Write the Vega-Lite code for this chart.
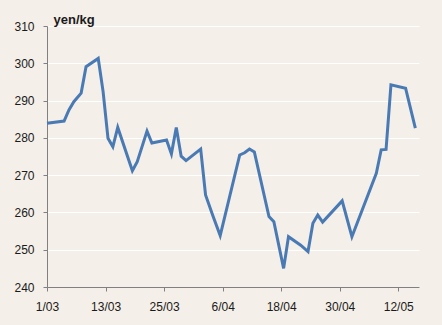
{
  "$schema": "https://vega.github.io/schema/vega-lite/v6.json",
  "width": 372,
  "height": 261,
  "autosize": "none",
  "padding": {"left": 47, "top": 26, "right": 23, "bottom": 38},
  "background": "#f4efe8",
  "config": {
    "view": {"stroke": null},
    "font": "Liberation Sans",
    "axis": {"labelFont": "Liberation Sans", "labelFontSize": 12, "labelColor": "#1a1a1a", "domainColor": "#808080", "tickColor": "#808080", "tickSize": 4}
  },
  "data": {
    "values": [
      {"date": "2008-03-01T00:00:00Z", "price": 283.9},
      {"date": "2008-03-04T12:00:00Z", "price": 284.5},
      {"date": "2008-03-05T12:00:00Z", "price": 287.5},
      {"date": "2008-03-06T12:00:00Z", "price": 289.7},
      {"date": "2008-03-08T00:00:00Z", "price": 292.0},
      {"date": "2008-03-09T00:00:00Z", "price": 299.1},
      {"date": "2008-03-11T12:00:00Z", "price": 301.3},
      {"date": "2008-03-12T12:00:00Z", "price": 292.4},
      {"date": "2008-03-13T12:00:00Z", "price": 279.9},
      {"date": "2008-03-14T12:00:00Z", "price": 277.6},
      {"date": "2008-03-15T12:00:00Z", "price": 282.8},
      {"date": "2008-03-18T12:00:00Z", "price": 271.2},
      {"date": "2008-03-19T12:00:00Z", "price": 273.6},
      {"date": "2008-03-21T12:00:00Z", "price": 281.8},
      {"date": "2008-03-22T12:00:00Z", "price": 278.6},
      {"date": "2008-03-25T12:00:00Z", "price": 279.4},
      {"date": "2008-03-26T12:00:00Z", "price": 275.7},
      {"date": "2008-03-27T12:00:00Z", "price": 282.8},
      {"date": "2008-03-28T12:00:00Z", "price": 275.1},
      {"date": "2008-03-29T12:00:00Z", "price": 273.9},
      {"date": "2008-04-01T12:00:00Z", "price": 277.0},
      {"date": "2008-04-02T12:00:00Z", "price": 264.7},
      {"date": "2008-04-04T00:00:00Z", "price": 259.1},
      {"date": "2008-04-05T12:00:00Z", "price": 253.8},
      {"date": "2008-04-09T12:00:00Z", "price": 275.4},
      {"date": "2008-04-10T12:00:00Z", "price": 276.0},
      {"date": "2008-04-11T12:00:00Z", "price": 277.0},
      {"date": "2008-04-12T12:00:00Z", "price": 276.2},
      {"date": "2008-04-15T12:00:00Z", "price": 258.9},
      {"date": "2008-04-16T12:00:00Z", "price": 257.5},
      {"date": "2008-04-18T12:00:00Z", "price": 245.0},
      {"date": "2008-04-19T12:00:00Z", "price": 253.5},
      {"date": "2008-04-22T00:00:00Z", "price": 251.2},
      {"date": "2008-04-23T12:00:00Z", "price": 249.5},
      {"date": "2008-04-24T12:00:00Z", "price": 257.1},
      {"date": "2008-04-25T12:00:00Z", "price": 259.3},
      {"date": "2008-04-26T12:00:00Z", "price": 257.4},
      {"date": "2008-04-30T12:00:00Z", "price": 263.1},
      {"date": "2008-05-02T12:00:00Z", "price": 253.5},
      {"date": "2008-05-07T12:00:00Z", "price": 270.5},
      {"date": "2008-05-08T12:00:00Z", "price": 276.8},
      {"date": "2008-05-09T12:00:00Z", "price": 276.9},
      {"date": "2008-05-10T12:00:00Z", "price": 294.2},
      {"date": "2008-05-13T12:00:00Z", "price": 293.3},
      {"date": "2008-05-15T12:00:00Z", "price": 282.6}
    ]
  },
  "mark": {"type": "line", "color": "#4a7ab4", "strokeWidth": 3, "strokeJoin": "miter"},
  "encoding": {
    "x": {
      "field": "date",
      "type": "temporal",
      "scale": {
        "type": "utc",
        "nice": false,
        "domain": [
          {"year": 2008, "month": 3, "date": 1, "utc": true},
          {"year": 2008, "month": 5, "date": 16, "hours": 6, "utc": true}
        ]
      },
      "axis": {
        "title": null,
        "grid": false,
        "labelExpr": "utcFormat(datum.value, '%-d/%m')",
        "labelPadding": 10,
        "labelFlush": false,
        "values": [
          {"year": 2008, "month": 3, "date": 1, "utc": true},
          {"year": 2008, "month": 3, "date": 13, "utc": true},
          {"year": 2008, "month": 3, "date": 25, "utc": true},
          {"year": 2008, "month": 4, "date": 6, "utc": true},
          {"year": 2008, "month": 4, "date": 18, "utc": true},
          {"year": 2008, "month": 4, "date": 30, "utc": true},
          {"year": 2008, "month": 5, "date": 12, "utc": true}
        ]
      }
    },
    "y": {
      "field": "price",
      "type": "quantitative",
      "scale": {"domain": [240, 310], "nice": false, "zero": false},
      "axis": {
        "title": "yen/kg",
        "titleAngle": 0,
        "titleAlign": "left",
        "titleBaseline": "alphabetic",
        "titleX": 6,
        "titleY": -3,
        "titleFont": "Liberation Sans",
        "titleFontSize": 13,
        "titleFontWeight": "bold",
        "titleColor": "#1a1a1a",
        "values": [240, 250, 260, 270, 280, 290, 300, 310],
        "grid": true,
        "gridColor": "#ffffff",
        "gridWidth": 1,
        "labelPadding": 9
      }
    }
  }
}
